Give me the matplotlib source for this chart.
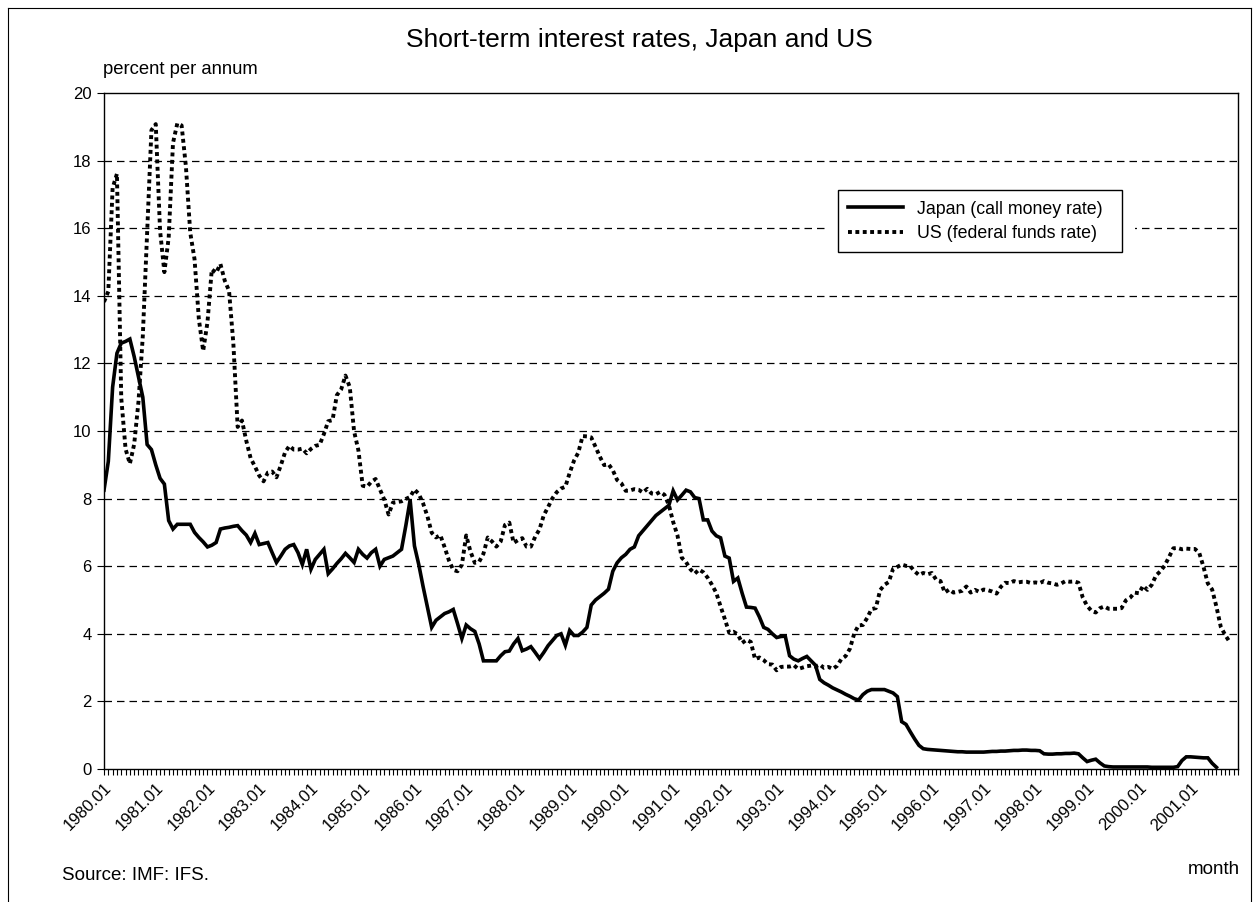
import numpy as np
import matplotlib
matplotlib.use('Agg')
import matplotlib.pyplot as plt
import matplotlib.transforms as mtransforms
from matplotlib.patches import Rectangle
from matplotlib.lines import Line2D

plt.rcParams['font.family'] = ['Liberation Sans', 'DejaVu Sans']

W, H = 1259, 902

years = list(range(1980, 2002))
tick_labels = ['%d.01' % y for y in years]
tick_labels[-1] = '2001,01'

# monthly values, one row per year
japan = [
    8.25, 9.1, 11.3, 12.3, 12.6, 12.65, 12.72, 12.2, 11.6, 11.0, 9.6, 9.45,
    9.0, 8.6, 8.43, 7.35, 7.1, 7.24, 7.24, 7.24, 7.24, 7.0, 6.85, 6.72,
    6.57, 6.62, 6.7, 7.1, 7.13, 7.15, 7.18, 7.2, 7.05, 6.92, 6.7, 6.97,
    6.64, 6.67, 6.7, 6.4, 6.11, 6.3, 6.5, 6.6, 6.64, 6.4, 6.05, 6.5,
    5.91, 6.2, 6.35, 6.5, 5.78, 5.92, 6.08, 6.22, 6.38, 6.25, 6.11, 6.5,
    6.35, 6.24, 6.4, 6.5, 6.0, 6.2, 6.25, 6.3, 6.4, 6.5, 7.2, 7.96,
    6.6, 6.05, 5.4, 4.8, 4.19, 4.4, 4.5, 4.6, 4.65, 4.72, 4.3, 3.86,
    4.26, 4.15, 4.07, 3.7, 3.2, 3.2, 3.2, 3.2, 3.35, 3.47, 3.49, 3.7,
    3.86, 3.5, 3.55, 3.62, 3.45, 3.27, 3.45, 3.65, 3.8, 3.95, 4.0, 3.66,
    4.1, 3.95, 3.95, 4.05, 4.19, 4.85, 5.0, 5.1, 5.2, 5.32, 5.85, 6.1,
    6.25, 6.35, 6.5, 6.57, 6.9, 7.05, 7.2, 7.35, 7.5, 7.6, 7.7, 7.8,
    8.23, 7.96, 8.1, 8.25, 8.2, 8.03, 8.0, 7.37, 7.37, 7.04, 6.9, 6.84,
    6.3, 6.24, 5.55, 5.65, 5.2, 4.79, 4.78, 4.76, 4.5, 4.19, 4.13, 4.0,
    3.89, 3.92, 3.93, 3.35, 3.25, 3.2, 3.27, 3.33, 3.2, 3.07, 2.65, 2.55,
    2.48, 2.4, 2.34, 2.28, 2.21, 2.15, 2.08, 2.04, 2.2, 2.3, 2.35, 2.35,
    2.35, 2.35, 2.3, 2.25, 2.14, 1.4, 1.32, 1.1, 0.89, 0.7, 0.6, 0.58,
    0.57, 0.56, 0.55, 0.54, 0.53, 0.52, 0.51, 0.51, 0.5, 0.5, 0.5, 0.5,
    0.5, 0.51, 0.52, 0.52, 0.53, 0.53, 0.54, 0.55, 0.55, 0.56, 0.56, 0.55,
    0.55, 0.54, 0.45, 0.44, 0.44, 0.45, 0.45, 0.46, 0.46, 0.47, 0.45, 0.33,
    0.22, 0.26, 0.29, 0.18, 0.09, 0.07, 0.06, 0.06, 0.06, 0.06, 0.06, 0.06,
    0.06, 0.06, 0.06, 0.05, 0.05, 0.05, 0.05, 0.05, 0.05, 0.07, 0.25, 0.36,
    0.36, 0.35, 0.34, 0.33, 0.33, 0.17, 0.05,
]

us = [
    13.82, 14.13, 17.19, 17.61, 10.98, 9.47, 9.03, 9.61, 10.87, 12.81, 15.85, 18.90,
    19.08, 15.93, 14.70, 15.72, 18.52, 19.10, 19.04, 17.82, 15.87, 15.08, 13.31, 12.37,
    13.22, 14.78, 14.68, 14.94, 14.45, 14.15, 12.59, 10.12, 10.31, 9.71, 9.20, 8.95,
    8.68, 8.51, 8.77, 8.80, 8.63, 8.98, 9.37, 9.56, 9.45, 9.45, 9.48, 9.34,
    9.47, 9.56, 9.59, 9.91, 10.29, 10.32, 11.06, 11.23, 11.64, 11.30, 9.99, 9.43,
    8.38, 8.35, 8.50, 8.58, 8.27, 7.97, 7.53, 7.88, 7.90, 7.92, 7.99, 8.05,
    8.27, 8.14, 7.86, 7.48, 6.99, 6.85, 6.92, 6.56, 6.17, 5.89, 5.85, 6.04,
    6.91, 6.43, 6.10, 6.13, 6.37, 6.85, 6.73, 6.58, 6.73, 7.22, 7.29, 6.69,
    6.77, 6.83, 6.58, 6.58, 6.87, 7.09, 7.51, 7.75, 8.01, 8.19, 8.30, 8.35,
    8.76, 9.12, 9.36, 9.85, 9.84, 9.81, 9.53, 9.24, 8.99, 9.02, 8.84, 8.55,
    8.45, 8.23, 8.24, 8.28, 8.26, 8.18, 8.29, 8.15, 8.13, 8.20, 8.11, 7.81,
    7.31, 6.91, 6.25, 6.12, 5.91, 5.78, 5.90, 5.82, 5.66, 5.45, 5.21, 4.81,
    4.43, 4.03, 4.06, 3.98, 3.73, 3.82, 3.76, 3.25, 3.30, 3.22, 3.10, 3.09,
    2.92, 3.02, 3.03, 3.03, 3.07, 2.96, 3.00, 3.04, 3.06, 3.03, 3.09, 2.99,
    3.02, 2.96, 3.05, 3.25, 3.34, 3.56, 4.01, 4.25, 4.26, 4.47, 4.73, 4.76,
    5.29, 5.45, 5.53, 5.92, 5.98, 6.05, 6.01, 6.00, 5.85, 5.74, 5.80, 5.76,
    5.80, 5.60, 5.56, 5.22, 5.31, 5.22, 5.24, 5.27, 5.40, 5.22, 5.30, 5.24,
    5.31, 5.29, 5.25, 5.19, 5.39, 5.51, 5.50, 5.56, 5.52, 5.54, 5.54, 5.50,
    5.52, 5.50, 5.56, 5.51, 5.49, 5.45, 5.49, 5.56, 5.54, 5.55, 5.51, 5.07,
    4.83, 4.68, 4.63, 4.76, 4.81, 4.74, 4.74, 4.74, 4.76, 4.99, 5.07, 5.22,
    5.20, 5.42, 5.30, 5.45, 5.73, 5.85, 6.02, 6.27, 6.53, 6.54, 6.50, 6.52,
    6.51, 6.51, 6.40, 5.98, 5.49, 5.31, 4.80, 4.21, 3.97, 3.77,
]

n_months = len(years) * 12
x = np.arange(n_months)
jp = np.full(n_months, np.nan)
jp[:len(japan)] = japan
usv = np.full(n_months, np.nan)
usv[:len(us)] = us

fig = plt.figure(figsize=(W / 100, H / 100), dpi=100)
ax = fig.add_axes([104 / W, 1 - 769 / H, (1238 - 104) / W, (769 - 93) / H])

# dashed horizontal grid
for yv in range(2, 20, 2):
    ax.axhline(yv, color='black', lw=0.9, ls=(0, (6, 4)), zorder=0.5)

# white patch around the legend hides the grid there
blend = mtransforms.blended_transform_factory(ax.transAxes, ax.transData)
ax.add_patch(Rectangle((0.638, 15.0), 0.271, 2.45, transform=blend,
                       facecolor='white', edgecolor='none', zorder=0.8))

ax.plot(x, jp, color='black', lw=2.6, solid_joinstyle='miter',
        label='Japan (call money rate)', zorder=3)
ax.plot(x, usv, color='black', lw=2.8, ls=(0, (1, 0.9)), dash_capstyle='butt',
        label='US (federal funds rate)', zorder=2)

ax.set_xlim(0, n_months - 1)
ax.set_ylim(0, 20)
ax.set_yticks(range(0, 21, 2))
ax.set_xticks(range(0, n_months, 12))
ax.set_xticklabels(tick_labels, rotation=45, ha='right', va='top',
                   rotation_mode='anchor', fontsize=12)
ax.set_xticks(x, minor=True)
ax.tick_params(axis='x', which='both', direction='out', length=4, width=0.8, pad=4)
ax.tick_params(axis='y', direction='out', length=5, width=0.8, labelsize=12, pad=4)
for s in ax.spines.values():
    s.set_linewidth(1.0)
    s.set_color('black')

leg = ax.legend(loc='upper left', bbox_to_anchor=(0.647, 0.765, 0.251, 0.0915),
                mode='expand', borderaxespad=0,
                fontsize=12.8, handlelength=3.1, handletextpad=0.75,
                labelspacing=0.4, borderpad=0.6, fancybox=False,
                edgecolor='black', framealpha=1)
leg.get_frame().set_linewidth(1.0)
leg.set_zorder(5)

fig.text(639 / W, 1 - 40 / H, 'Short-term interest rates, Japan and US',
         ha='center', va='center', fontsize=19)
fig.text(103 / W, 1 - 70 / H, 'percent per annum', ha='left', va='center', fontsize=13.3)
fig.text(62 / W, 1 - 875 / H, 'Source: IMF: IFS.', ha='left', va='center', fontsize=13.5)
fig.text(1240 / W, 1 - 870 / H, 'month', ha='right', va='center', fontsize=13.5)

# outer frame
for xs, ys in [([8 / W, 8 / W], [0, 1 - 8 / H]),
               ([8 / W, 1251 / W], [1 - 8 / H, 1 - 8 / H]),
               ([1251 / W, 1251 / W], [0, 1 - 8 / H])]:
    fig.add_artist(Line2D(xs, ys, transform=fig.transFigure, color='black', lw=0.8))

fig.savefig('out.png', dpi=100)
